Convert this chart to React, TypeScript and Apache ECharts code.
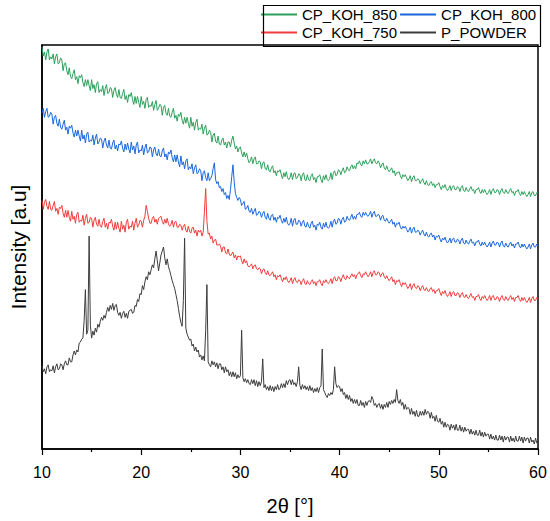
import React, { useEffect, useRef } from "react";
import * as echarts from "echarts";

// 2θ sampling grid (degrees)
const TWO_THETA_START = 10;
const TWO_THETA_STEP = 0.125;

const SERIES_NAMES = ["CP_KOH_850", "CP_KOH_800", "CP_KOH_750", "P_POWDER"];
const COLORS = ["#2ca05a", "#1a66dd", "#f03c3c", "#3c3c3c"];

// Intensities (a.u.), one value per 0.125° from 10° to 60° (one row per degree)
const CP_KOH_850 = [
  406, 397, 401, 393, 401, 404, 393, 396,
  394, 399, 389, 396, 399, 389, 390, 395,
  393, 382, 389, 390, 382, 378, 385, 376,
  374, 379, 383, 373, 376, 369, 377, 375,
  378, 370, 366, 373, 367, 373, 367, 362,
  373, 364, 368, 360, 369, 371, 360, 363,
  361, 367, 357, 364, 368, 359, 360, 365,
  364, 355, 362, 365, 358, 355, 363, 355,
  354, 359, 363, 353, 357, 350, 358, 356,
  360, 353, 348, 356, 349, 356, 350, 345,
  356, 348, 351, 344, 353, 355, 345, 347,
  346, 351, 342, 348, 352, 342, 344, 348,
  347, 337, 345, 347, 339, 337, 344, 336,
  335, 340, 344, 334, 337, 331, 338, 336,
  340, 332, 328, 335, 329, 335, 329, 324,
  335, 326, 330, 322, 330, 333, 322, 324,
  323, 328, 318, 324, 327, 317, 318, 322,
  320, 310, 317, 319, 311, 309, 316, 308,
  307, 312, 314, 307, 310, 304, 310, 310,
  305, 312, 316, 309, 303, 306, 300, 304,
  305, 299, 295, 300, 295, 299, 293, 289,
  291, 295, 288, 293, 295, 288, 288, 291,
  290, 283, 289, 290, 283, 282, 287, 281,
  280, 284, 286, 279, 281, 276, 281, 280,
  282, 277, 273, 279, 275, 280, 274, 272,
  274, 279, 272, 278, 279, 273, 274, 278,
  277, 271, 277, 279, 272, 271, 277, 272,
  271, 276, 278, 272, 274, 269, 275, 275,
  277, 272, 269, 276, 272, 277, 272, 271,
  273, 279, 272, 279, 281, 276, 277, 282,
  281, 277, 281, 284, 279, 280, 285, 282,
  281, 285, 287, 283, 286, 283, 289, 288,
  291, 287, 286, 291, 288, 292, 288, 288,
  290, 293, 288, 291, 293, 289, 288, 291,
  289, 284, 287, 289, 284, 282, 286, 282,
  280, 282, 284, 279, 281, 276, 279, 279,
  280, 276, 273, 277, 275, 277, 274, 271,
  273, 276, 270, 274, 276, 271, 271, 273,
  272, 268, 271, 273, 269, 267, 271, 267,
  266, 269, 270, 266, 268, 264, 267, 267,
  269, 265, 262, 266, 264, 267, 263, 261,
  263, 266, 261, 265, 266, 262, 262, 265,
  264, 260, 264, 266, 261, 260, 264, 261,
  260, 263, 265, 261, 262, 258, 262, 262,
  264, 260, 258, 262, 259, 262, 259, 257,
  259, 262, 257, 261, 263, 259, 259, 262,
  261, 257, 261, 263, 259, 258, 262, 259,
  258, 261, 263, 259, 260, 256, 260, 260,
  262, 258, 256, 260, 257, 260, 257, 255,
  257, 260, 255, 259, 260, 256, 256, 259,
  258,
];

const CP_KOH_800 = [
  339, 344, 335, 341, 344, 335, 336, 340,
  338, 328, 335, 337, 329, 326, 333, 325,
  323, 328, 332, 322, 325, 318, 326, 324,
  327, 319, 315, 322, 316, 322, 316, 311,
  322, 313, 317, 309, 318, 320, 310, 312,
  311, 317, 307, 314, 318, 308, 310, 314,
  313, 304, 311, 314, 307, 304, 312, 304,
  303, 309, 312, 303, 307, 301, 308, 307,
  311, 304, 300, 308, 302, 309, 303, 299,
  310, 302, 306, 298, 307, 310, 299, 302,
  301, 307, 297, 304, 308, 299, 300, 305,
  304, 295, 302, 305, 298, 296, 303, 296,
  295, 301, 304, 295, 298, 292, 300, 298,
  302, 294, 290, 297, 290, 297, 290, 285,
  296, 287, 290, 283, 291, 293, 282, 285,
  283, 288, 278, 284, 287, 278, 279, 283,
  281, 271, 279, 281, 274, 271, 279, 271,
  273, 276, 283, 289, 272, 268, 270, 264,
  265, 260, 263, 257, 259, 253, 256, 252,
  262, 275, 287, 270, 258, 254, 251, 254,
  252, 246, 248, 250, 242, 243, 246, 240,
  239, 243, 237, 240, 243, 236, 237, 240,
  239, 234, 238, 240, 234, 232, 238, 233,
  231, 236, 237, 231, 234, 229, 234, 233,
  236, 231, 228, 233, 229, 234, 228, 226,
  228, 233, 225, 231, 233, 227, 227, 231,
  230, 225, 229, 231, 225, 224, 229, 225,
  223, 228, 230, 224, 226, 221, 227, 226,
  229, 224, 222, 228, 224, 229, 224, 223,
  225, 230, 224, 230, 232, 227, 228, 233,
  232, 227, 232, 234, 229, 230, 235, 232,
  231, 234, 237, 232, 235, 232, 237, 237,
  239, 235, 234, 239, 236, 239, 236, 235,
  237, 240, 234, 238, 240, 235, 235, 237,
  236, 231, 235, 236, 231, 230, 233, 230,
  228, 230, 232, 227, 229, 224, 228, 227,
  229, 224, 222, 225, 223, 225, 222, 219,
  221, 224, 218, 222, 224, 219, 219, 221,
  220, 216, 219, 221, 217, 215, 219, 215,
  214, 217, 218, 214, 216, 211, 215, 214,
  216, 212, 209, 213, 211, 214, 210, 208,
  210, 213, 208, 212, 213, 209, 209, 212,
  211, 207, 211, 213, 208, 207, 211, 208,
  207, 210, 212, 208, 209, 205, 209, 209,
  211, 207, 205, 209, 206, 209, 206, 204,
  206, 209, 204, 208, 210, 206, 206, 209,
  208, 204, 208, 210, 205, 204, 208, 205,
  204, 207, 209, 205, 207, 203, 207, 207,
  209, 205, 203, 207, 204, 207, 204, 202,
  204, 207, 202, 206, 208, 204, 204, 207,
  205,
];

const CP_KOH_750 = [
  251, 242, 249, 252, 245, 242, 250, 242,
  241, 246, 250, 240, 243, 237, 244, 243,
  246, 238, 234, 241, 234, 241, 234, 230,
  240, 232, 235, 228, 237, 239, 229, 231,
  230, 236, 226, 233, 237, 228, 229, 234,
  233, 224, 231, 234, 227, 225, 232, 225,
  224, 230, 233, 224, 228, 222, 229, 228,
  232, 225, 221, 229, 222, 229, 223, 219,
  230, 222, 226, 219, 229, 232, 222, 225,
  224, 230, 221, 228, 233, 224, 226, 231,
  230, 224, 231, 235, 246, 240, 233, 228,
  228, 233, 235, 229, 232, 227, 233, 234,
  235, 230, 227, 232, 228, 233, 227, 225,
  227, 231, 224, 229, 230, 224, 224, 227,
  226, 221, 225, 227, 221, 219, 225, 220,
  218, 223, 224, 218, 221, 215, 221, 219,
  221, 215, 219, 240, 263, 230, 217, 218,
  212, 215, 208, 211, 212, 206, 206, 207,
  205, 199, 204, 204, 198, 197, 202, 197,
  195, 197, 199, 193, 196, 191, 195, 194,
  195, 190, 187, 192, 188, 190, 185, 184,
  185, 187, 182, 185, 186, 182, 181, 183,
  182, 177, 181, 182, 178, 176, 180, 176,
  175, 177, 179, 174, 176, 171, 175, 174,
  176, 172, 169, 173, 171, 174, 170, 168,
  170, 173, 167, 171, 173, 169, 168, 171,
  170, 166, 170, 172, 167, 166, 170, 167,
  166, 169, 171, 167, 169, 165, 169, 169,
  171, 167, 165, 170, 168, 171, 168, 167,
  169, 172, 167, 172, 174, 170, 170, 174,
  173, 169, 173, 176, 172, 171, 175, 173,
  172, 175, 177, 174, 176, 172, 176, 177,
  179, 175, 173, 177, 176, 179, 176, 174,
  176, 179, 174, 178, 180, 176, 176, 179,
  178, 174, 177, 178, 174, 172, 175, 172,
  170, 172, 174, 169, 171, 166, 170, 169,
  171, 167, 164, 168, 166, 168, 165, 162,
  164, 167, 161, 165, 167, 163, 162, 165,
  164, 160, 163, 165, 161, 160, 163, 160,
  159, 162, 163, 159, 161, 157, 160, 160,
  162, 158, 155, 159, 157, 160, 156, 154,
  156, 159, 154, 158, 159, 155, 155, 158,
  157, 153, 156, 158, 154, 153, 156, 153,
  152, 155, 157, 153, 154, 150, 154, 154,
  156, 152, 150, 154, 152, 155, 152, 150,
  152, 155, 150, 154, 155, 151, 151, 154,
  153, 149, 153, 155, 151, 150, 154, 151,
  150, 153, 155, 151, 153, 149, 153, 153,
  155, 151, 149, 153, 150, 153, 150, 148,
  150, 153, 148, 152, 154, 150, 150, 153,
  151,
];

const P_POWDER = [
  84, 78, 81, 76, 83, 85, 78, 80,
  79, 84, 77, 83, 86, 80, 81, 86,
  85, 80, 86, 89, 85, 85, 92, 88,
  88, 95, 99, 95, 100, 98, 107, 108,
  111, 112, 130, 161, 116, 120, 215, 125,
  112, 119, 115, 122, 118, 126, 123, 129,
  133, 130, 135, 132, 138, 143, 139, 145,
  141, 147, 140, 145, 146, 138, 135, 138,
  132, 137, 139, 133, 137, 132, 139, 140,
  141, 137, 138, 145, 144, 151, 149, 157,
  156, 165, 161, 169, 174, 171, 179, 176,
  181, 186, 183, 192, 200, 190, 180, 188,
  196, 200, 204, 193, 186, 192, 184, 180,
  175, 170, 166, 162, 156, 150, 142, 134,
  128, 124, 150, 213, 122, 116, 113, 110,
  111, 104, 106, 99, 103, 98, 100, 93,
  95, 90, 94, 89, 120, 166, 88, 85,
  83, 89, 85, 88, 83, 87, 81, 86,
  86, 80, 83, 77, 83, 78, 80, 74,
  78, 73, 78, 73, 77, 71, 75, 72,
  74, 120, 72, 68, 71, 67, 70, 66,
  65, 70, 66, 70, 64, 69, 63, 68,
  64, 68, 91, 62, 65, 60, 63, 59,
  64, 59, 63, 58, 63, 60, 65, 60,
  61, 66, 62, 66, 62, 69, 65, 69,
  70, 65, 70, 65, 67, 63, 68, 83,
  64, 60, 65, 61, 64, 60, 63, 59,
  64, 59, 62, 57, 61, 58, 62, 57,
  62, 64, 101, 60, 57, 54, 52, 56,
  54, 57, 55, 60, 83, 66, 62, 64,
  63, 58, 61, 55, 57, 51, 55, 50,
  54, 48, 51, 46, 50, 46, 50, 44,
  44, 49, 44, 47, 42, 48, 44, 48,
  49, 47, 53, 50, 44, 46, 42, 45,
  46, 41, 45, 40, 45, 42, 47, 42,
  48, 45, 49, 46, 50, 47, 60, 49,
  46, 50, 44, 47, 40, 45, 40, 42,
  41, 35, 41, 35, 38, 33, 39, 33,
  33, 38, 34, 38, 34, 40, 35, 38,
  37, 31, 37, 31, 33, 28, 34, 28,
  27, 31, 25, 28, 22, 27, 22, 25,
  24, 19, 25, 21, 24, 19, 25, 19,
  19, 24, 18, 22, 17, 22, 18, 20,
  20, 15, 20, 15, 18, 14, 19, 14,
  14, 19, 13, 17, 12, 17, 13, 15,
  15, 10, 15, 10, 13, 9, 14, 9,
  9, 14, 9, 13, 7, 13, 9, 12,
  12, 7, 13, 8, 11, 7, 13, 8,
  8, 13, 8, 12, 6, 12, 8, 11,
  11, 6, 12, 7, 9, 5, 11, 6,
  8,
];

const X_TICKS = { min: 10, max: 60, interval: 10 };
const Y_RANGE = { min: 0, max: 408 };

const FONT = 'Arial, "Liberation Sans", sans-serif';

function pairs(values: number[]) {
  return values.map((v, i) => [TWO_THETA_START + i * TWO_THETA_STEP, v]);
}

export default function App() {
  const ref = useRef<HTMLDivElement>(null);

  useEffect(() => {
    if (!ref.current) return;
    const chart = echarts.init(ref.current, undefined, { renderer: "svg" });
    const seriesData = [CP_KOH_850, CP_KOH_800, CP_KOH_750, P_POWDER];
    chart.setOption({
      animation: false,
      backgroundColor: "#ffffff",
      grid: {
        left: 37,
        right: 12,
        top: 45,
        bottom: 68,
        show: true,
        borderColor: "#000",
        borderWidth: 1.5,
        backgroundColor: "transparent",
      },
      legend: {
        data: SERIES_NAMES,
        left: 261,
        top: 7,
        width: 280,
        padding: 0,
        itemGap: 3,
        itemWidth: 36,
        itemHeight: 2,
        icon: "rect",
        textStyle: { fontSize: 15, color: "#000", fontFamily: FONT },
      },
      graphic: [
        {
          type: "rect",
          left: 261,
          top: 3,
          shape: { x: 0, y: 0, width: 277, height: 41 },
          style: { fill: "none", stroke: "#000", lineWidth: 1.2 },
          z: 100,
          silent: true,
        },
      ],
      xAxis: {
        type: "value",
        min: X_TICKS.min,
        max: X_TICKS.max,
        interval: X_TICKS.interval,
        name: "2θ [°]",
        nameLocation: "middle",
        nameGap: 47,
        nameTextStyle: { fontSize: 20, color: "#000", fontFamily: FONT },
        axisLine: { show: true, lineStyle: { color: "#000", width: 1.5 } },
        axisTick: { show: true, length: 6, lineStyle: { color: "#000", width: 1.2 } },
        minorTick: { show: true, splitNumber: 2, length: 3, lineStyle: { color: "#000", width: 1.2 } },
        axisLabel: { fontSize: 16, color: "#000", fontFamily: FONT, margin: 15 },
        splitLine: { show: false },
        minorSplitLine: { show: false },
      },
      yAxis: {
        type: "value",
        min: Y_RANGE.min,
        max: Y_RANGE.max,
        name: "Intensity [a.u]",
        nameLocation: "middle",
        nameGap: 13,
        nameTextStyle: { fontSize: 21, color: "#000", fontFamily: FONT },
        axisLine: { show: true, lineStyle: { color: "#000", width: 1.5 } },
        axisTick: { show: false },
        axisLabel: { show: false },
        splitLine: { show: false },
      },
      series: SERIES_NAMES.map((name, i) => ({
        name,
        type: "line",
        data: pairs(seriesData[i]),
        showSymbol: false,
        symbol: "none",
        color: COLORS[i],
        lineStyle: { color: COLORS[i], width: 1 },
        emphasis: { disabled: true },
      })),
    });
    return () => chart.dispose();
  }, []);

  return (
    <div
      ref={ref}
      style={{ position: "fixed", left: 0, top: 0, width: 550, height: 521 }}
    />
  );
}
